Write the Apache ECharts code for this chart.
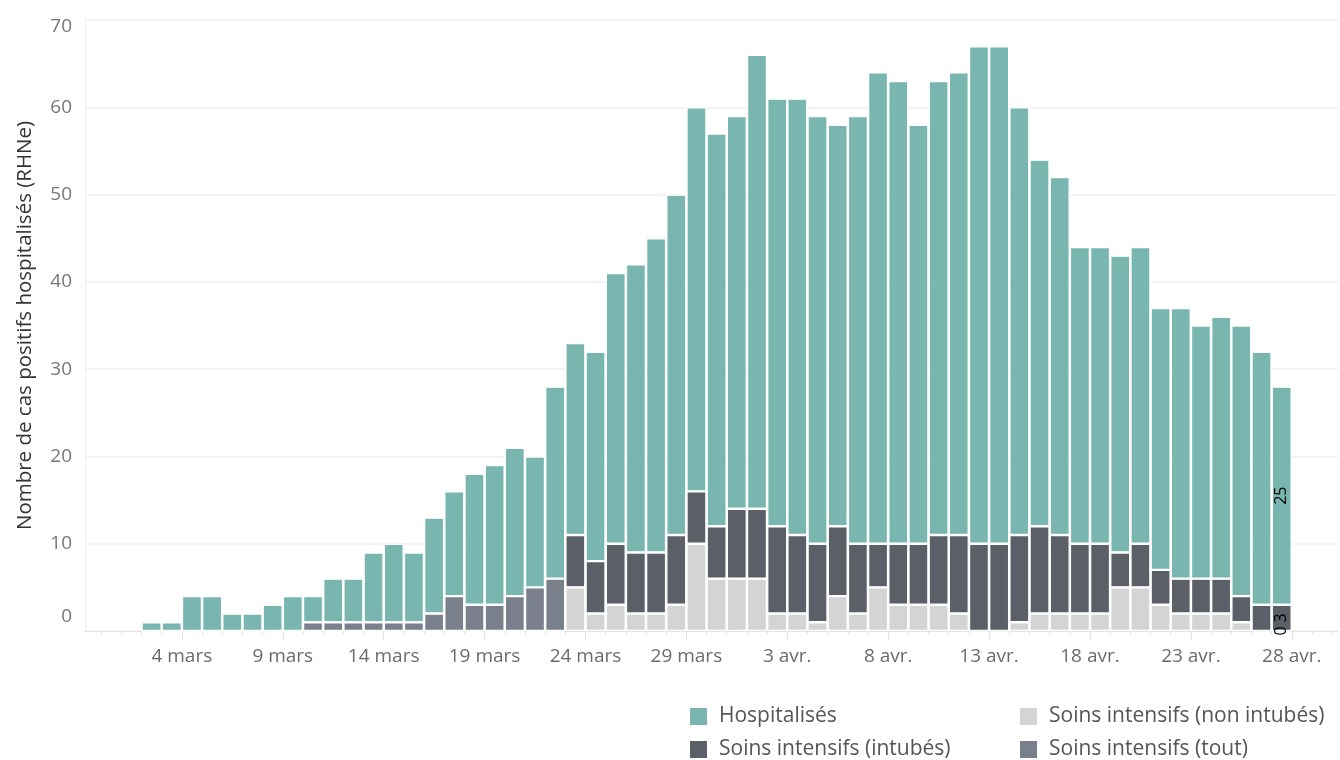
<!DOCTYPE html>
<html>
<head>
<meta charset="utf-8">
<script src="https://cdn.jsdelivr.net/npm/echarts@6/dist/echarts.min.js"></script>
<style>html,body{margin:0;padding:0;background:#fff}#c{width:1340px;height:760px}</style>
</head>
<body>
<div id="c"></div>
<script>
// Dates of each bar (2 mars – 27 avr. 2020)
const dates = [
  '2020-03-02','2020-03-03','2020-03-04','2020-03-05','2020-03-06','2020-03-07','2020-03-08','2020-03-09','2020-03-10','2020-03-11',
  '2020-03-12','2020-03-13','2020-03-14','2020-03-15','2020-03-16','2020-03-17','2020-03-18','2020-03-19','2020-03-20','2020-03-21',
  '2020-03-22','2020-03-23','2020-03-24','2020-03-25','2020-03-26','2020-03-27','2020-03-28','2020-03-29','2020-03-30','2020-03-31',
  '2020-04-01','2020-04-02','2020-04-03','2020-04-04','2020-04-05','2020-04-06','2020-04-07','2020-04-08','2020-04-09','2020-04-10',
  '2020-04-11','2020-04-12','2020-04-13','2020-04-14','2020-04-15','2020-04-16','2020-04-17','2020-04-18','2020-04-19','2020-04-20',
  '2020-04-21','2020-04-22','2020-04-23','2020-04-24','2020-04-25','2020-04-26','2020-04-27'
];
// Soins intensifs (non intubés)
const siNonIntubes = [
  0,0,0,0,0,0,0,0,0,0, 0,0,0,0,0,0,0,0,0,0,
  0,5,2,3,2,2,3,10,6,6, 6,2,2,1,4,2,5,3,3,3,
  2,0,0,1,2,2,2,2,5,5, 3,2,2,2,1,0,0
];
// Soins intensifs (intubés)
const siIntubes = [
  0,0,0,0,0,0,0,0,0,0, 0,0,0,0,0,0,0,0,0,0,
  0,6,6,7,7,7,8,6,6,8, 8,10,9,9,8,8,5,7,7,8,
  9,10,10,10,10,9,8,8,4,5, 4,4,4,4,3,3,3
];
// Soins intensifs (tout)
const siTout = [
  0,0,0,0,0,0,0,0,1,1, 1,1,1,1,2,4,3,3,4,5,
  6,0,0,0,0,0,0,0,0,0, 0,0,0,0,0,0,0,0,0,0,
  0,0,0,0,0,0,0,0,0,0, 0,0,0,0,0,0,0
];
// Hospitalisés
const hospitalises = [
  1,1,4,4,2,2,3,4,3,5, 5,8,9,8,11,12,15,16,17,15,
  22,22,24,31,33,36,39,44,45,45, 52,49,50,49,46,49,54,53,48,52,
  53,57,57,49,42,41,34,34,34,34, 30,31,29,30,31,29,25
];
// x-axis tick labels (every 5 days, from 4 mars)
const tickValues = [5,10,15,20,25,30,35,40,45,50,55,60];
const tickLabels = ['4 mars','9 mars','14 mars','19 mars','24 mars','29 mars','3 avr.','8 avr.','13 avr.','18 avr.','23 avr.','28 avr.'];
const dailyTicks = [];
for (let d = 1; d <= 62; d++) dailyTicks.push(d);

const origin = Date.UTC(2020, 1, 28); // day 0 of the x scale
const dayIndex = s => (Date.parse(s + 'T00:00:00Z') - origin) / 86400000;
const last = dates.length - 1;
// value first, x second (so that stacking happens on the value dimension)
const toData = (arr, withLabel) => arr.map((v, i) => {
  const x = dayIndex(dates[i]) + 0.5;
  if (withLabel && i === last) return { value: [v, x], label: { show: true } };
  return [v, x];
});

const FONT = 'Open Sans';
const barBase = (name, color, arr, withLabel) => ({
  name, type: 'bar', stack: 'total', xAxisIndex: 0,
  encode: { x: 1, y: 0 },
  barWidth: 20,
  itemStyle: { color, borderColor: '#ffffff', borderWidth: 1.2 },
  label: {
    show: false, position: 'inside', rotate: 90, color: '#000', fontSize: 16, fontFamily: FONT,
    formatter: p => String(p.value[0])
  },
  emphasis: { disabled: true },
  data: toData(arr, withLabel)
});

const legendCommon = {
  top: 706, height: 60, padding: 0, orient: 'vertical', itemWidth: 19, itemHeight: 19, itemGap: 12,
  icon: 'rect', selectedMode: false,
  textStyle: { fontSize: 21, color: '#555', fontFamily: FONT, padding: [0, 0, 0, 6] }
};

const chart = echarts.init(document.getElementById('c'), null, { renderer: 'canvas' });
chart.setOption({
  animation: false,
  backgroundColor: '#ffffff',
  textStyle: { fontFamily: FONT },
  grid: { left: 85, right: 2, top: 20, bottom: 129, containLabel: false },
  legend: [
    Object.assign({ left: 688, data: ['Hospitalisés', 'Soins intensifs (intubés)'] }, legendCommon),
    Object.assign({ left: 1018, data: ['Soins intensifs (non intubés)', 'Soins intensifs (tout)'] }, legendCommon)
  ],
  xAxis: [
    {
      type: 'value', min: 0.2, max: 62.29, position: 'bottom',
      axisLine: { show: true, lineStyle: { color: '#e4e4e4', width: 1 } },
      axisTick: { show: true, customValues: tickValues, length: 8, lineStyle: { color: '#e0e0e0' } },
      axisLabel: {
        customValues: tickValues, margin: 16, fontSize: 19, color: '#6b6b6b', fontFamily: FONT,
        formatter: v => tickLabels[tickValues.indexOf(Math.round(v))] || ''
      },
      splitLine: { show: false }
    },
    {
      type: 'value', min: 0.2, max: 62.29, position: 'bottom',
      axisLine: { show: false },
      axisTick: { show: true, customValues: dailyTicks, length: 3, lineStyle: { color: '#e0e0e0' } },
      axisLabel: { show: false },
      splitLine: { show: false }
    }
  ],
  yAxis: {
    type: 'value', min: 0, max: 70, interval: 10,
    name: 'Nombre de cas positifs hospitalisés (RHNe)',
    nameLocation: 'middle', nameGap: 49, nameRotate: 90,
    nameTextStyle: { fontSize: 20.5, color: '#333', fontFamily: FONT },
    axisLine: { show: true, lineStyle: { color: '#eeeeee' } },
    axisTick: { show: false },
    axisLabel: {
      margin: 13, fontSize: 19, color: '#777', fontFamily: FONT,
      formatter: v => v === 0 ? '{z|0}' : (v === 70 ? '{t|70}' : String(v)),
      rich: {
        z: { fontSize: 19, color: '#777', fontFamily: FONT, padding: [0, 0, 28, 0] },
        t: { fontSize: 19, color: '#777', fontFamily: FONT, padding: [14, 0, 0, 0] }
      }
    },
    splitLine: { show: true, lineStyle: { color: '#efefef', width: 1.5 } }
  },
  series: [
    barBase('Soins intensifs (non intubés)', '#d4d4d4', siNonIntubes, true),
    barBase('Soins intensifs (intubés)', '#5b5f68', siIntubes, true),
    barBase('Soins intensifs (tout)', '#797f8b', siTout, false),
    barBase('Hospitalisés', '#79b6b0', hospitalises, true)
  ]
});
</script>
</body>
</html>
